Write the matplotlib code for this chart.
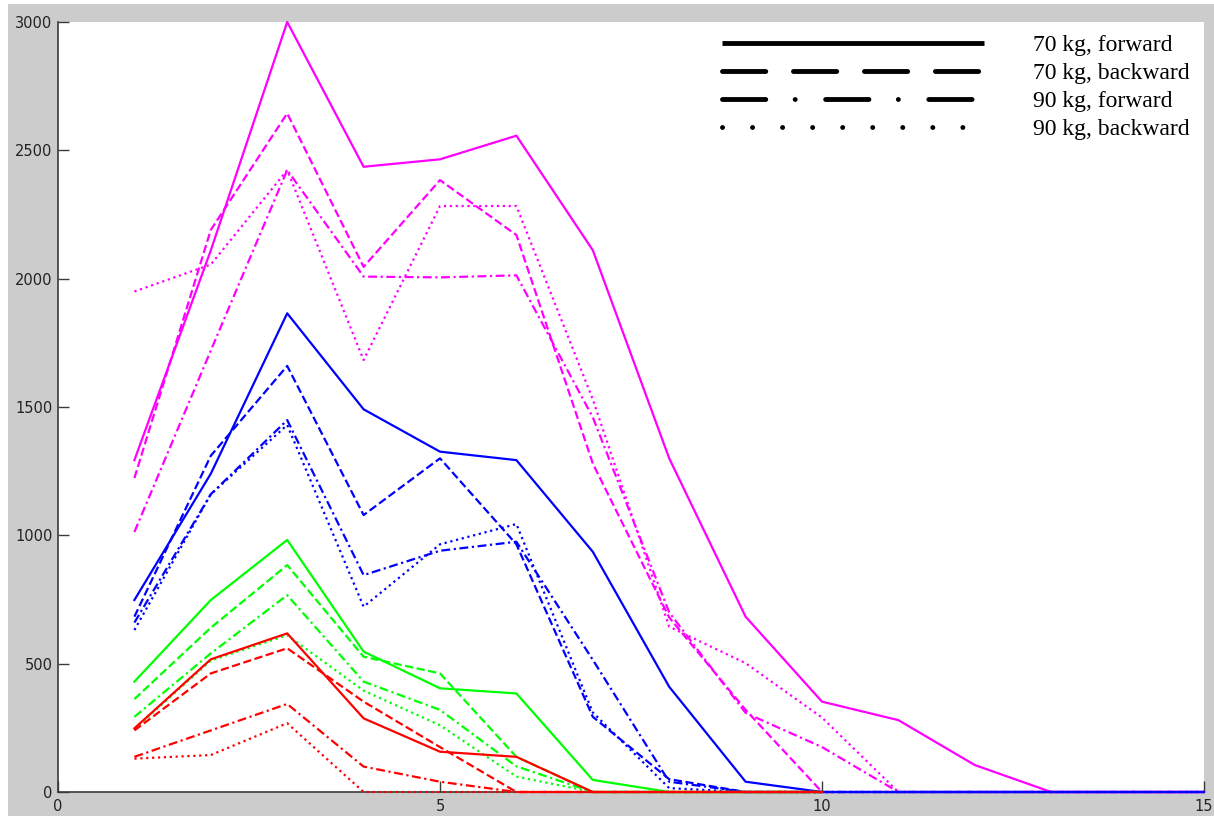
import numpy as np
import matplotlib
matplotlib.use("Agg")
import matplotlib.pyplot as plt
from matplotlib.lines import Line2D
from matplotlib.patches import Rectangle

# step index along the horizontal axis
steps_long = np.arange(1, 16)
steps_short = np.arange(1, 11)

# magenta group
mag_70_fwd = [1293, 2110, 3000, 2436, 2465, 2557, 2111, 1300, 683, 352, 280, 105, 0, 0, 0]
mag_70_bwd = [1223, 2190, 2644, 2046, 2384, 2170, 1280, 680, 320, 0, 0, 0, 0, 0, 0]
mag_90_fwd = [1013, 1720, 2423, 2008, 2005, 2013, 1460, 700, 308, 175, 0, 0, 0, 0, 0]
mag_90_bwd = [1950, 2055, 2423, 1683, 2283, 2283, 1530, 644, 502, 290, 0, 0, 0, 0, 0]

# blue group
blu_70_fwd = [748, 1240, 1865, 1491, 1326, 1293, 936, 410, 40, 0, 0, 0, 0, 0, 0]
blu_70_bwd = [683, 1310, 1660, 1079, 1300, 965, 293, 50, 0, 0, 0, 0, 0, 0, 0]
blu_90_fwd = [660, 1160, 1449, 845, 940, 975, 515, 40, 0, 0, 0, 0, 0, 0, 0]
blu_90_bwd = [631, 1160, 1430, 722, 965, 1044, 310, 15, 0, 0, 0, 0, 0, 0, 0]

# green group
grn_70_fwd = [430, 748, 982, 547, 404, 384, 47, 0, 0, 0]
grn_70_bwd = [362, 640, 884, 527, 462, 137, 0, 0, 0, 0]
grn_90_fwd = [293, 540, 767, 430, 320, 100, 0, 0, 0, 0]
grn_90_bwd = [245, 512, 611, 395, 260, 60, 0, 0, 0, 0]

# red group
red_70_fwd = [248, 517, 618, 287, 157, 137, 0, 0, 0, 0]
red_70_bwd = [240, 462, 560, 352, 175, 0, 0, 0, 0, 0]
red_90_fwd = [137, 240, 343, 99, 40, 0, 0, 0, 0, 0]
red_90_bwd = [130, 144, 268, 0, 0, 0, 0, 0, 0, 0]

legend_labels = ["70 kg, forward", "70 kg, backward", "90 kg, forward", "90 kg, backward"]

styles = ["-", "--", (0, (4, 1.6, 1, 1.6)), ":"]

groups = [
    ("#ff00ff", steps_long, [mag_70_fwd, mag_70_bwd, mag_90_fwd, mag_90_bwd]),
    ("#0000ff", steps_long, [blu_70_fwd, blu_70_bwd, blu_90_fwd, blu_90_bwd]),
    ("#00ff00", steps_short, [grn_70_fwd, grn_70_bwd, grn_90_fwd, grn_90_bwd]),
    ("#ff0000", steps_short, [red_70_fwd, red_70_bwd, red_90_fwd, red_90_bwd]),
]

W, H = 1214, 816
fig = plt.figure(figsize=(W / 100, H / 100), dpi=100)
fig.patch.set_facecolor("white")
fig.patches.append(Rectangle((8 / W, 0), 1 - 8 / W, 1 - 4 / H, transform=fig.transFigure,
                             facecolor="#cccccc", edgecolor="none", zorder=-1))

ax = fig.add_axes([58 / W, 24 / H, 1146 / W, 770 / H])
ax.set_facecolor("white")

for color, xs, series in groups:
    for ys, ls in zip(series, styles):
        ax.plot(xs, ys, color=color, linestyle=ls, linewidth=1.6, clip_on=False, zorder=3)

ax.set_xlim(0, 15)
ax.set_ylim(0, 3000)
ax.set_xticks([0, 5, 10, 15])
ax.set_yticks(np.arange(0, 3001, 500))
for side in ("top", "right"):
    ax.spines[side].set_visible(False)
for side in ("left", "bottom"):
    ax.spines[side].set_color("#3a3a3a")
    ax.spines[side].set_linewidth(1.2)
ax.tick_params(direction="in", length=8, width=1, color="#3a3a3a",
               labelsize=10.5, labelcolor="#222222")
ax.tick_params(axis="x", pad=5)
ax.tick_params(axis="y", pad=4)

# black sample lines for the legend
lw = 3.5
handles = [
    Line2D([], [], color="black", linewidth=lw, solid_capstyle="butt"),
    Line2D([], [], color="black", linewidth=lw, linestyle=(0, (8.9, 5.7)), dash_capstyle="round"),
    Line2D([], [], color="black", linewidth=lw, linestyle=(0, (8.9, 6.05, 0.01, 6.26)), dash_capstyle="round"),
    Line2D([], [], color="black", linewidth=lw, linestyle=(0, (0.01, 6.17)), dash_capstyle="round"),
]
ax.legend(handles, legend_labels, loc="upper left", bbox_to_anchor=(0.579, 0.984),
          frameon=False, borderpad=0, borderaxespad=0, handlelength=11.1,
          handletextpad=2.1, labelspacing=0.28,
          prop={"family": "Liberation Serif", "size": 17})

fig.savefig("out.png", dpi=100, facecolor=fig.get_facecolor())
